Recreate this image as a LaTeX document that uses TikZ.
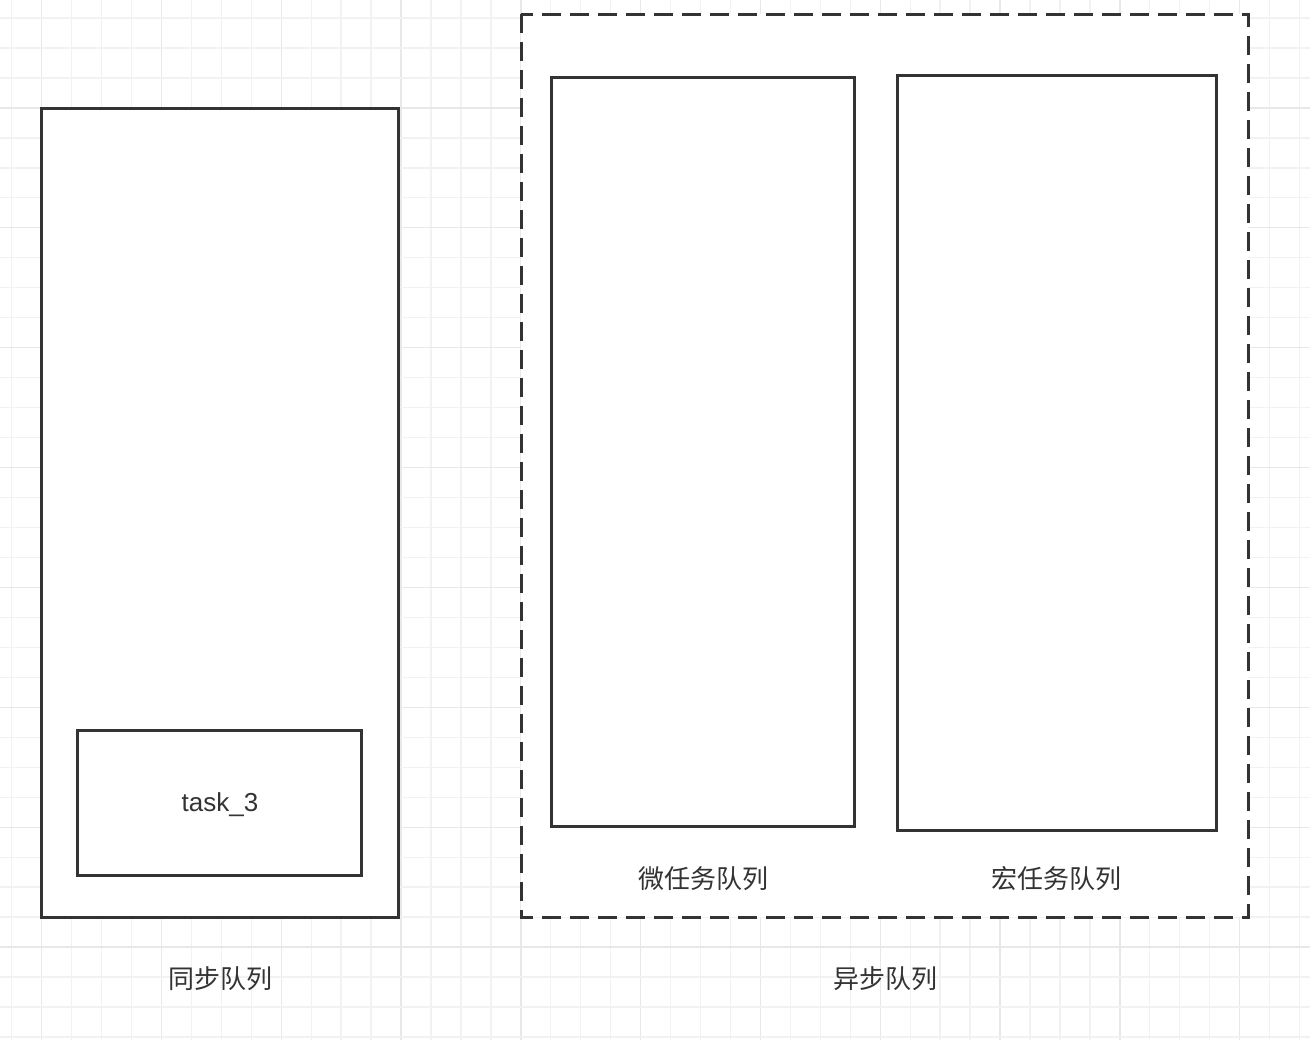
\documentclass[tikz,border=0pt]{standalone}
\usepackage{fontspec}
\setmainfont{Liberation Sans}
\newfontfamily\cjk{Noto Sans CJK SC}
\definecolor{inkc}{HTML}{333333}
\definecolor{gridminor}{HTML}{F2F2F2}
\definecolor{gridmajor}{HTML}{E8E8E8}
\tikzset{
  box/.style={draw=inkc, line width=2.25pt, fill=white},
  dashbox/.style={draw=inkc, line width=2.25pt, dash pattern=on 14.25pt off 6.75pt},
  lbl/.style={text=inkc, font=\fontsize{19.5pt}{22pt}\selectfont\cjk, inner sep=0pt},
  tasklbl/.style={text=inkc, font=\fontsize{19.5pt}{22pt}\selectfont, inner sep=0pt},
}
\begin{document}
\begin{tikzpicture}[x=0.75pt,y=-0.75pt]
\useasboundingbox (0,0) rectangle (1310,1040);
\fill[white] (0,0) rectangle (1310,1040);
% grid
\foreach \k in {0,...,43}{
  \pgfmathsetmacro{\gx}{11.7+29.95*\k}
  \pgfmathtruncatemacro{\m}{mod(\k,4)}
  \ifnum\m=1
    \draw[gridmajor, line width=1pt] (\gx,0) -- (\gx,1040);
  \else
    \draw[gridminor, line width=1pt] (\gx,0) -- (\gx,1040);
  \fi
}
\foreach \k in {0,...,34}{
  \pgfmathsetmacro{\gy}{18+29.97*\k}
  \pgfmathtruncatemacro{\m}{mod(\k,4)}
  \ifnum\m=3
    \draw[gridmajor, line width=1pt] (0,\gy) -- (1310,\gy);
  \else
    \draw[gridminor, line width=1pt] (0,\gy) -- (1310,\gy);
  \fi
}
% sync queue
\draw[box] (41,108) rectangle (398,917);
\node[box, minimum width=284*0.75pt, minimum height=145*0.75pt, inner sep=0pt, outer sep=0pt] (task) at (219.5,803) {};
\node[tasklbl] (tasktxt) at (220,805) {task\_3};
\node[lbl] (synclbl) at (220,979) {同步队列};
% async queue
\fill[white] (521,14) rectangle (1248,917);
\draw[dashbox] (521,14) rectangle (1248,917);
\draw[box] (551,77) rectangle (854,826);
\draw[box] (897,75) rectangle (1216,830);
\node[lbl] (microlbl) at (703,879) {微任务队列};
\node[lbl] (macrolbl) at (1056.5,879) {宏任务队列};
\node[lbl] (asynclbl) at (885,979) {异步队列};
\end{tikzpicture}
\end{document}
